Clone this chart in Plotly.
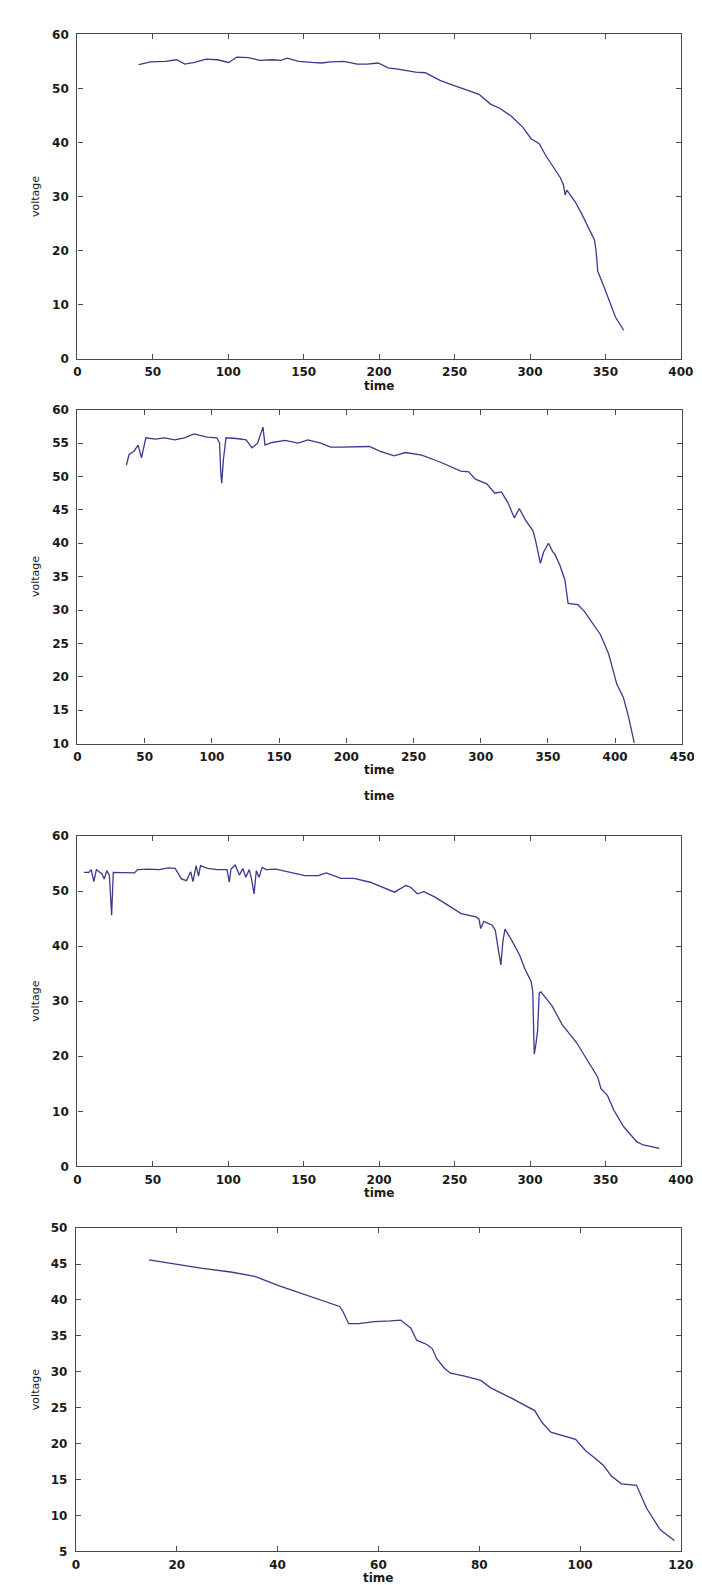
import plotly.graph_objects as go

W, H = 702, 1585

# ---- data ----
t1 = [40.6, 48.6, 58.3, 65.8, 71.2, 77.7, 85.2, 92.8, 100.3, 105.7, 113.3, 120.8, 129.4, 134.8, 139.1,
      146.6, 155.3, 161.7, 168.2, 176.8, 185.4, 191.9, 199.4, 205.9, 211.3, 224.2, 230.6, 240.3, 247.9,
      256.5, 266.2, 273.8, 280.2, 287.8, 295.3, 300.7, 306.1, 310.4, 314.7, 320.1, 322.2, 323.3, 324.4,
      329.8, 334.1, 338.4, 342.7, 343.8, 344.9, 349.2, 353.5, 356.7, 362.1]
v1 = [54.4, 54.9, 55.0, 55.3, 54.5, 54.8, 55.4, 55.3, 54.8, 55.8, 55.7, 55.2, 55.3, 55.2, 55.6,
      55.0, 54.8, 54.7, 54.9, 55.0, 54.5, 54.5, 54.7, 53.8, 53.6, 53.0, 52.9, 51.5, 50.7,
      49.8, 48.9, 47.1, 46.3, 44.8, 42.8, 40.7, 39.8, 37.6, 35.8, 33.5, 32.1, 30.3, 31.2,
      29.1, 26.9, 24.5, 22.0, 19.9, 16.2, 13.2, 10.1, 7.7, 5.3]

t2 = [36.4, 38.4, 42.0, 45.1, 47.6, 50.9, 57.8, 65.0, 72.3, 79.5, 86.8, 96.4, 103.7, 105.7, 106.6,
      107.3, 108.6, 110.5, 118.2, 125.5, 129.8, 134.0, 138.0, 139.5, 144.8, 154.5, 164.2, 171.4, 181.1,
      188.4, 195.6, 205.3, 217.4, 224.7, 235.6, 244.0, 256.1, 270.6, 285.1, 291.1, 296.0, 304.5, 310.5,
      315.4, 320.2, 325.0, 328.7, 333.5, 338.8, 340.8, 344.4, 346.8, 350.4, 353.4, 355.3, 358.9, 362.6,
      365.0, 372.2, 377.1, 384.3, 389.1, 395.2, 401.2, 406.1, 409.7, 414.2]
v2 = [51.7, 53.3, 53.8, 54.7, 52.8, 55.8, 55.6, 55.8, 55.5, 55.8, 56.4, 55.9, 55.8, 55.0, 50.6,
      49.0, 52.6, 55.8, 55.7, 55.5, 54.3, 55.0, 57.4, 54.7, 55.1, 55.4, 55.0, 55.5, 55.0,
      54.4, 54.4, 54.4, 54.5, 53.8, 53.1, 53.6, 53.2, 52.1, 50.8, 50.7, 49.6, 48.9, 47.5,
      47.7, 46.1, 43.8, 45.2, 43.4, 41.9, 40.4, 37.0, 38.7, 40.0, 38.8, 38.3, 36.7, 34.5,
      31.0, 30.8, 29.8, 27.8, 26.3, 23.4, 18.9, 16.9, 14.2, 10.1]

t3 = [4.4, 7.6, 9.2, 10.9, 12.6, 14.7, 16.3, 17.8, 19.5, 21.2, 22.7, 23.8, 30.3, 37.8, 40.0,
      47.5, 54.0, 60.4, 64.8, 69.0, 72.3, 75.1, 76.6, 78.7, 80.3, 81.6, 86.3, 92.8, 99.2, 100.7,
      101.8, 104.6, 107.4, 109.6, 111.7, 113.9, 115.4, 117.1, 118.6, 120.4, 122.5, 125.1, 131.5, 142.3,
      150.9, 159.6, 165.0, 174.7, 183.3, 194.1, 202.6, 210.2, 217.7, 220.9, 225.3, 229.6, 237.1, 245.8,
      254.4, 264.1, 266.2, 267.3, 269.4, 274.9, 277.0, 279.2, 280.7, 282.0, 283.4, 287.8, 293.1, 296.4,
      300.7, 301.8, 302.2, 302.8, 303.9, 305.0, 306.1, 307.2, 314.7, 321.2, 330.8, 338.4, 344.9, 347.0,
      351.3, 355.6, 362.1, 370.7, 375.0, 385.8]
v3 = [53.4, 53.4, 53.9, 51.7, 53.9, 53.5, 53.1, 52.2, 53.7, 52.9, 45.6, 53.4, 53.3, 53.3, 53.9,
      54.0, 53.9, 54.2, 54.1, 52.2, 51.9, 53.5, 51.7, 54.6, 52.7, 54.6, 54.1, 53.9, 53.9, 51.6,
      54.0, 54.7, 52.9, 54.1, 52.5, 53.9, 52.2, 49.5, 53.7, 52.5, 54.3, 53.9, 54.0, 53.3,
      52.8, 52.8, 53.3, 52.3, 52.3, 51.6, 50.7, 49.8, 51.0, 50.7, 49.5, 49.9, 48.9, 47.4,
      45.9, 45.3, 44.9, 43.2, 44.5, 43.8, 42.9, 39.0, 36.6, 40.8, 43.1, 41.1, 38.4, 36.0,
      33.6, 31.8, 27.0, 20.4, 22.2, 24.6, 31.5, 31.7, 29.1, 25.8, 22.5, 19.2, 16.2, 14.1,
      12.9, 10.2, 7.2, 4.5, 3.9, 3.3]

t4 = [14.5, 19.6, 25.1, 30.7, 35.5, 40.2, 46.6, 52.3, 52.9, 54.1, 56.1, 59.2, 62.4, 64.4, 66.4,
      67.6, 69.6, 70.7, 71.5, 73.1, 74.3, 77.1, 80.3, 82.2, 86.2, 91.0, 92.5, 94.2, 99.1, 101.1,
      103.1, 104.6, 106.2, 108.2, 111.2, 113.2, 115.9, 118.7]
v4 = [45.6, 45.0, 44.4, 43.9, 43.3, 42.0, 40.5, 39.1, 38.5, 36.7, 36.7, 37.0, 37.1, 37.2, 36.1,
      34.4, 33.8, 33.2, 31.9, 30.5, 29.8, 29.4, 28.8, 27.8, 26.4, 24.6, 22.9, 21.6, 20.6, 19.0,
      17.9, 17.0, 15.5, 14.4, 14.2, 11.0, 8.0, 6.5]

series = [(t1, v1), (t2, v2), (t3, v3), (t4, v4)]
x_ranges = [(0, 400, 50), (0, 450, 50), (0, 400, 50), (0, 120, 20)]
y_ranges = [(0, 60, 10), (10, 60, 5), (0, 60, 10), (5, 50, 5)]

x_label = "time"
y_label = "voltage"

# ---- layout geometry (pixels) ----
boxes = [  # left, right, top, bottom
    (67.0, 685.5, 19.5, 347.0),
    (67.1, 687.0, 398.3, 735.0),
    (67.0, 685.5, 828.3, 1161.7),
    (65.5, 685.5, 1224.0, 1550.0),
]
LINE = "#3a3a8c"
AXC = "#4a4a4a"
FONT = "DejaVu Sans"
TXT = "#1a1a1a"

fig = go.Figure()
annotations = []
for i, ((t, v), (x0, x1, dx), (y0, y1, dy), (l, r, tp, bt)) in enumerate(
        zip(series, x_ranges, y_ranges, boxes), start=1):
    sfx = "" if i == 1 else str(i)
    fig.add_trace(go.Scatter(x=t, y=v, mode="lines",
                             line=dict(color=LINE, width=1.3),
                             xaxis="x" + sfx, yaxis="y" + sfx, showlegend=False))
    common = dict(showgrid=False, zeroline=False, showline=True, linecolor=AXC, linewidth=1.3,
                  mirror="ticks", ticks="inside", ticklen=5, tickcolor=AXC, tickwidth=1,
                  tickfont=dict(family=FONT, size=12, color=TXT, weight="bold"))
    fig.update_layout(**{
        "xaxis" + sfx: dict(domain=[l / W, r / W], range=[x0, x1], dtick=dx, tick0=x0,
                            anchor="y" + sfx, ticklabelstandoff=2, **common),
        "yaxis" + sfx: dict(domain=[1 - bt / H, 1 - tp / H], range=[y0, y1], dtick=dy, tick0=y0,
                            anchor="x" + sfx, ticklabelstandoff=5, **common),
    })
    # x-axis title
    annotations.append(dict(text=x_label, xref="paper", yref="paper",
                            x=(l + r) / 2 / W, y=1 - (bt + 27) / H,
                            xanchor="center", yanchor="middle", showarrow=False,
                            font=dict(family=FONT, size=12, color=TXT, weight="bold")))
    # y-axis title
    annotations.append(dict(text=y_label, xref="paper", yref="paper",
                            x=24 / W, y=1 - (tp + bt) / 2 / H, textangle=-90,
                            xanchor="center", yanchor="middle", showarrow=False,
                            font=dict(family=FONT, size=11, color=TXT)))

# extra stray "time" label between panels 2 and 3
annotations.append(dict(text=x_label, xref="paper", yref="paper",
                        x=(boxes[1][0] + boxes[1][1]) / 2 / W, y=1 - 788 / H,
                        xanchor="center", yanchor="middle", showarrow=False,
                        font=dict(family=FONT, size=12, color=TXT, weight="bold")))

fig.update_layout(width=W, height=H, margin=dict(l=0, r=0, t=0, b=0),
                  paper_bgcolor="white", plot_bgcolor="white",
                  annotations=annotations, showlegend=False)

fig.write_html("out.html")
